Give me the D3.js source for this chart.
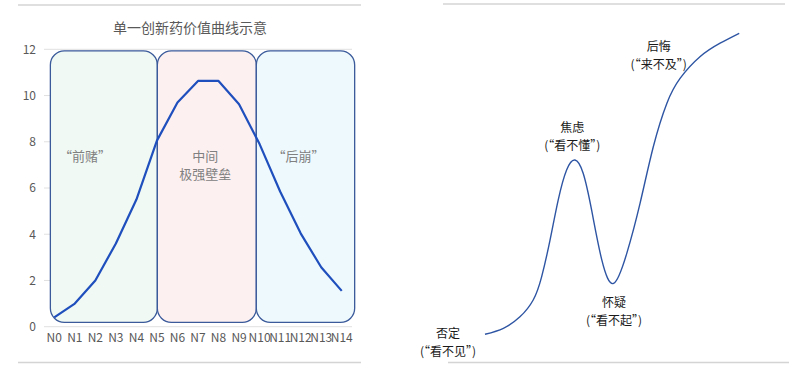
<!DOCTYPE html>
<html><head><meta charset="utf-8">
<script src="https://cdn.jsdelivr.net/npm/d3@7"></script>
<style>body{margin:0;background:#fff}svg{display:block}text{font-family:"Noto Sans CJK SC","Noto Sans",sans-serif}</style>
</head><body>
<script>
// ---- Left chart data ----
const categories = ["N0","N1","N2","N3","N4","N5","N6","N7","N8","N9","N10","N11","N12","N13","N14"];
const values = [0.4,1.0,2.0,3.6,5.5,8.05,9.7,10.63,10.63,9.62,7.9,5.85,4.04,2.57,1.55];
const yTicks = [0,2,4,6,8,10,12];
const title = "单一创新药价值曲线示意";
// phases: box edges in category-index units (0 = N0 centre)
const phaseStart = [-0.19,5.02,9.84];
const phaseEnd = [5.02,9.84,14.63];
const phaseFills = ["#f0f9f4","#fdf0f1","#eef9fd"];
const phaseLabels = [["“前赌”"],["中间","极强壁垒"],["“后崩”"]];
const phaseLabelPos = [1.5,7.35,11.9];

// ---- Right chart data (abstract units 0..100) ----
const curveX = [0,7.2,13.7,18.9,22.2,25.5,28.7,32.0,35.3,38.5,41.8,45.8,50.4,55.6,60.8,66.0,71.3,76.5,84.3,92.2,99.7];
const curveY = [0,2.0,5.8,11.4,19.1,31.3,44.6,54.6,57.9,53.5,41.3,24.7,16.9,26.9,43.5,62.3,76.7,85.0,92.2,96.7,100];
const stageNames = ["否定","焦虑","怀疑","后悔"];
const stageSubs = ["(“看不见”)","(“看不懂”)","(“看不起”)","(“来不及”)"];
const stageX = [-14.5,34.2,50.6,68.1];
const stageY = [0.1,68.6,10.3,95.5];

const W=800,H=366;
const svg=d3.select("body").append("svg").attr("width",W).attr("height",H);

// separators
[[18,361,5],[18,361,362.5]].forEach(d=>svg.append("line").attr("x1",d[0]).attr("x2",d[1]).attr("y1",d[2]).attr("y2",d[2]).attr("stroke","#d4d4d4").attr("stroke-width",1.5));
[[443,785,4],[448,789,362.5]].forEach(d=>svg.append("line").attr("x1",d[0]).attr("x2",d[1]).attr("y1",d[2]).attr("y2",d[2]).attr("stroke","#d4d4d4").attr("stroke-width",1.5));

// ---- Left chart ----
const x=d3.scaleBand().domain(categories).range([44,352]).paddingInner(0).paddingOuter(0);
const y=d3.scaleLinear().domain([0,12]).range([326.7,49.3]);
const step=x.step();
const xc=i=>x(categories[0])+step/2+i*step;

svg.append("text").attr("x",190).attr("y",33).attr("text-anchor","middle").attr("font-size",14).attr("fill","#595959").text(title);

const g=svg.append("g");
g.selectAll(".grid").data(yTicks).join("line").attr("x1",44).attr("x2",352)
 .attr("y1",d=>y(d)).attr("y2",d=>y(d)).attr("stroke","#e0e0e0").attr("stroke-width",1);

const yAxis=g.append("g").attr("transform","translate(44,0)")
 .call(d3.axisLeft(y).tickValues(yTicks).tickSize(0).tickPadding(8));
yAxis.select(".domain").remove();
yAxis.selectAll("text").attr("font-size",12).attr("fill","#595959").attr("font-family","'Noto Sans','DejaVu Sans',sans-serif");

const xAxis=g.append("g").attr("transform",`translate(0,${y(0)})`)
 .call(d3.axisBottom(x).tickSize(0).tickPadding(7));
xAxis.select(".domain").remove();
xAxis.selectAll("text").attr("font-size",12).attr("fill","#595959").attr("font-family","'Noto Sans','DejaVu Sans',sans-serif");

// phase boxes
const boxTop=y(11.93), boxBot=y(0.19);
phaseStart.forEach((s,i)=>{
  const x0=xc(s), x1=xc(phaseEnd[i]);
  g.append("rect").attr("x",x0).attr("y",boxTop).attr("width",x1-x0).attr("height",boxBot-boxTop)
   .attr("rx",14).attr("ry",14).attr("fill",phaseFills[i]).attr("stroke","#3a5a9a").attr("stroke-width",1.3);
});
phaseLabels.forEach((lines,i)=>{
  const cx=xc(phaseLabelPos[i]);
  lines.forEach((t,j)=>{
    g.append("text").attr("x",cx).attr("y",161+j*17.5).attr("text-anchor","middle").attr("font-size",13).attr("fill","#808080").text(t);
  });
});

const line=d3.line().x((d,i)=>xc(i)).y(d=>y(d));
g.append("path").datum(values).attr("d",line).attr("fill","none").attr("stroke","#1f4fbd").attr("stroke-width",2.2).attr("stroke-linejoin","round");

// ---- Right chart ----
const rx=d3.scaleLinear().domain([0,100]).range([485,740]);
const ry=d3.scaleLinear().domain([0,100]).range([334.3,33.3]);
const pts=curveX.map((v,i)=>[v,curveY[i]]);
svg.append("path").datum(pts).attr("d",d3.line().x(d=>rx(d[0])).y(d=>ry(d[1])).curve(d3.curveNatural))
 .attr("fill","none").attr("stroke","#2e55a3").attr("stroke-width",1.4);

stageNames.forEach((n,i)=>{
  const cx=rx(stageX[i]), cy=ry(stageY[i]);
  svg.append("text").attr("x",cx).attr("y",cy+4.2).attr("text-anchor","middle").attr("font-size",12).attr("fill","#1a1a1a").text(n);
  svg.append("text").attr("x",cx).attr("y",cy+21.7).attr("text-anchor","middle").attr("font-size",12).attr("fill","#1a1a1a").text(stageSubs[i]);
});
</script>
</body></html>
